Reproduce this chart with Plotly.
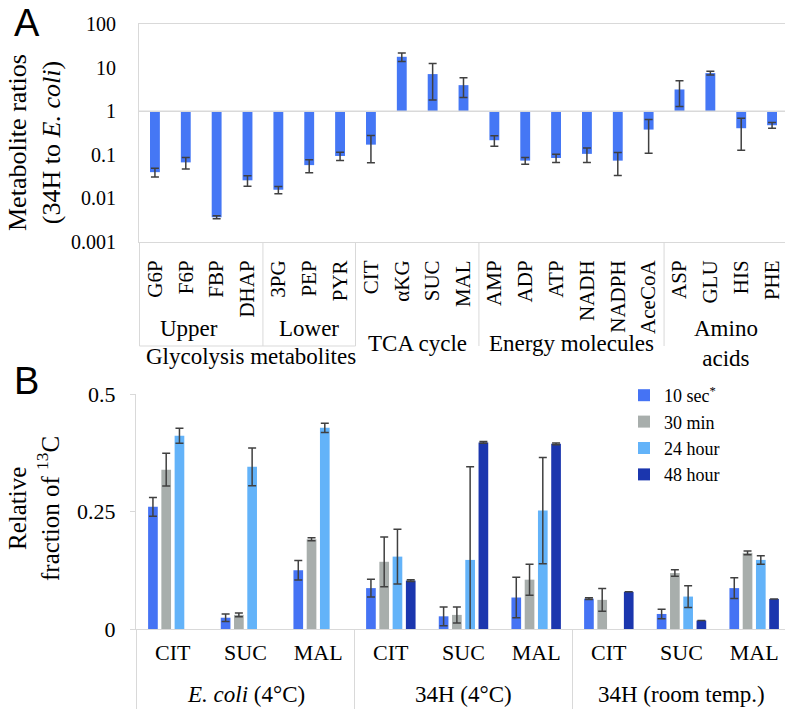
import plotly.graph_objects as go

W, H = 793, 709
OFF = 8  # page body margin shifts the figure by this much

# ---- panel A data: metabolite ratios 34H / E. coli ----
metabolites = ["G6P", "F6P", "FBP", "DHAP", "3PG", "PEP", "PYR",
               "CIT", "αKG", "SUC", "MAL",
               "AMP", "ADP", "ATP", "NADH", "NADPH", "AceCoA",
               "ASP", "GLU", "HIS", "PHE"]
ratios = [0.040, 0.067, 0.0037, 0.026, 0.0158, 0.058, 0.094,
          0.171, 17.7, 7.1, 3.96,
          0.216, 0.0735, 0.0845, 0.105, 0.0735, 0.379,
          3.15, 7.48, 0.407, 0.477]
ratio_err = [0.009, 0.020, 0.0003, 0.007, 0.003, 0.019, 0.020,
             0.105, 3.9, 5.3, 1.9,
             0.058, 0.013, 0.018, 0.038, 0.040, 0.27,
             1.87, 0.74, 0.28, 0.072]

# ---- panel B data: relative 13C fraction ----
strains = ["<i>E. coli</i> (4°C)", "34H (4°C)", "34H (room temp.)"]
acids = ["CIT", "SUC", "MAL"]
frac_10s = [0.260, 0.024, 0.125, 0.087, 0.027, 0.067, 0.0645, 0.032, 0.087]
err_10s = [0.020, 0.008, 0.021, 0.019, 0.020, 0.043, 0.002, 0.010, 0.022]
frac_30m = [0.339, 0.030, 0.191, 0.143, 0.030, 0.105, 0.062, 0.119, 0.162]
err_30m = [0.035, 0.004, 0.003, 0.053, 0.017, 0.033, 0.024, 0.007, 0.004]
frac_24h = [0.411, 0.345, 0.428, 0.154, 0.147, 0.252, None, 0.069, 0.147]
err_24h = [0.016, 0.040, 0.010, 0.058, 0.198, 0.113, None, 0.023, 0.009]
frac_48h = [None, None, None, 0.103, 0.397, 0.394, 0.079, 0.018, 0.064]
err_48h = [None, None, None, 0.002, 0.002, 0.002, None, None, None]

SERIF = "Liberation Serif"
SANS = "Liberation Sans"
GRID = "#d9d9d9"
ERR = "#404040"


def px_x(p):
    return (p - OFF) / W


def px_y(p):
    return 1 - (p - OFF) / H


fig = go.Figure()

# panel A bars hang from 1 on the log axis
fig.add_trace(go.Bar(
    x=metabolites, y=[r - 1 for r in ratios], base=1, width=0.32,
    marker=dict(color="#4577f5", line=dict(width=0)),
    error_y=dict(type="data", array=ratio_err, color=ERR, thickness=1.5, width=4),
    showlegend=False, xaxis="x", yaxis="y",
))

# panel B grouped bars; one category per (strain, acid)
keys = [f"{s} {a}" for s in strains for a in acids]
series = [
    ("10 sec<sup>*</sup>", frac_10s, err_10s, "#4573f4"),
    ("30 min", frac_30m, err_30m, "#a8aeac"),
    ("24 hour", frac_24h, err_24h, "#63b3f9"),
    ("48 hour", frac_48h, err_48h, "#1b36ae"),
]
for name, vals, errs, col in series:
    fig.add_trace(go.Bar(
        x=keys, y=vals, name=name, marker=dict(color=col, line=dict(width=0)),
        error_y=dict(type="data", array=errs, color=ERR, thickness=1.5, width=4),
        xaxis="x2", yaxis="y2",
    ))

# category group boxes under both panels
shapes = [dict(type="line", xref="x domain", yref="y", x0=0, x1=1, y0=1, y1=1,
               line=dict(color=GRID, width=1.5))]
for xd in [-0.5, 3.5, 6.5, 10.5, 16.5, 20.5]:
    shapes.append(dict(type="line", xref="x", yref="paper", x0=xd, x1=xd,
                       y0=px_y(242), y1=px_y(346), line=dict(color=GRID, width=1)))
shapes.append(dict(type="line", xref="x", yref="paper", x0=-0.5, x1=6.5,
                   y0=px_y(346), y1=px_y(346), line=dict(color=GRID, width=1)))
for i in range(len(strains) + 1):
    xd = i * len(acids) - 0.5
    shapes.append(dict(type="line", xref="x2", yref="paper", x0=xd, x1=xd,
                       y0=px_y(629), y1=px_y(712), line=dict(color=GRID, width=1)))

annotations = []
group_labels = [
    ("Upper", 1.1, 328), ("Lower", 5, 328),
    ("Glycolysis metabolites", 3.1, 356),
    ("TCA cycle", 8.5, 344), ("Energy molecules", 13.5, 344),
    ("Amino<br>acids", 18.5, 344),
]
for txt, xc, yc in group_labels:
    annotations.append(dict(text=txt, x=xc, xref="x", y=px_y(yc), yref="paper",
                            showarrow=False, xanchor="center", yanchor="middle",
                            font=dict(family=SERIF, size=23, color="black")))
for i, s in enumerate(strains):
    annotations.append(dict(text=s, x=i * len(acids) + 1, xref="x2", y=px_y(694),
                            yref="paper", showarrow=False, xanchor="center",
                            yanchor="middle",
                            font=dict(family=SERIF, size=23, color="black")))

annotations += [
    dict(text="A", x=px_x(12), y=px_y(0), xref="paper", yref="paper", showarrow=False,
         xanchor="left", yanchor="top", font=dict(family=SANS, size=38, color="black")),
    dict(text="B", x=px_x(12), y=px_y(358), xref="paper", yref="paper", showarrow=False,
         xanchor="left", yanchor="top", font=dict(family=SANS, size=38, color="black")),
    dict(text="Metabolite ratios<br>(34H to <i>E. coli</i>)", textangle=-90,
         x=px_x(34), y=px_y(143), xref="paper", yref="paper", showarrow=False,
         xanchor="center", yanchor="middle", font=dict(family=SERIF, size=26, color="black")),
    dict(text="Relative<br>fraction of <sup>13</sup>C", textangle=-90,
         x=px_x(34), y=px_y(509), xref="paper", yref="paper", showarrow=False,
         xanchor="center", yanchor="middle", font=dict(family=SERIF, size=25, color="black")),
]

fig.update_layout(
    width=W, height=H,
    margin=dict(l=0, r=0, t=0, b=0, autoexpand=False),
    paper_bgcolor="white", plot_bgcolor="white",
    font=dict(family=SERIF, size=20, color="black"),
    barmode="group", bargap=0.27, bargroupgap=0.27,
    xaxis=dict(domain=[px_x(139), px_x(788)], type="category", tickangle=-90,
               tickfont=dict(size=21), showline=True, mirror=True, linecolor=GRID,
               showgrid=False, ticks="", ticklabelstandoff=9, anchor="y"),
    yaxis=dict(domain=[px_y(242), px_y(24)], type="log", range=[-3, 2],
               tickvals=[0.001, 0.01, 0.1, 1, 10, 100],
               ticktext=["0.001", "0.01", "0.1", "1", "10", "100"],
               tickfont=dict(size=20), showline=True, mirror=True, linecolor=GRID,
               showgrid=False, ticks="", ticklabelstandoff=18, anchor="x"),
    xaxis2=dict(domain=[px_x(136), px_x(791)], type="category",
                tickvals=keys, ticktext=acids * len(strains),
                tickfont=dict(size=22), showline=True, linecolor=GRID,
                showgrid=False, ticks="", ticklabelstandoff=4, anchor="y2"),
    yaxis2=dict(domain=[px_y(629), px_y(394)], range=[0, 0.5],
                tickvals=[0, 0.25, 0.5], ticktext=["0", "0.25", "0.5"],
                tickfont=dict(size=22), showline=True, linecolor=GRID,
                ticks="outside", ticklen=5, tickcolor=GRID,
                showgrid=False, zeroline=False, ticklabelstandoff=10, anchor="x2"),
    legend=dict(x=px_x(624), y=px_y(377), xanchor="left", yanchor="top",
                font=dict(family=SERIF, size=18), bgcolor="rgba(0,0,0,0)",
                tracegroupgap=0),
    shapes=shapes, annotations=annotations,
)

fig.write_html("out.html")
